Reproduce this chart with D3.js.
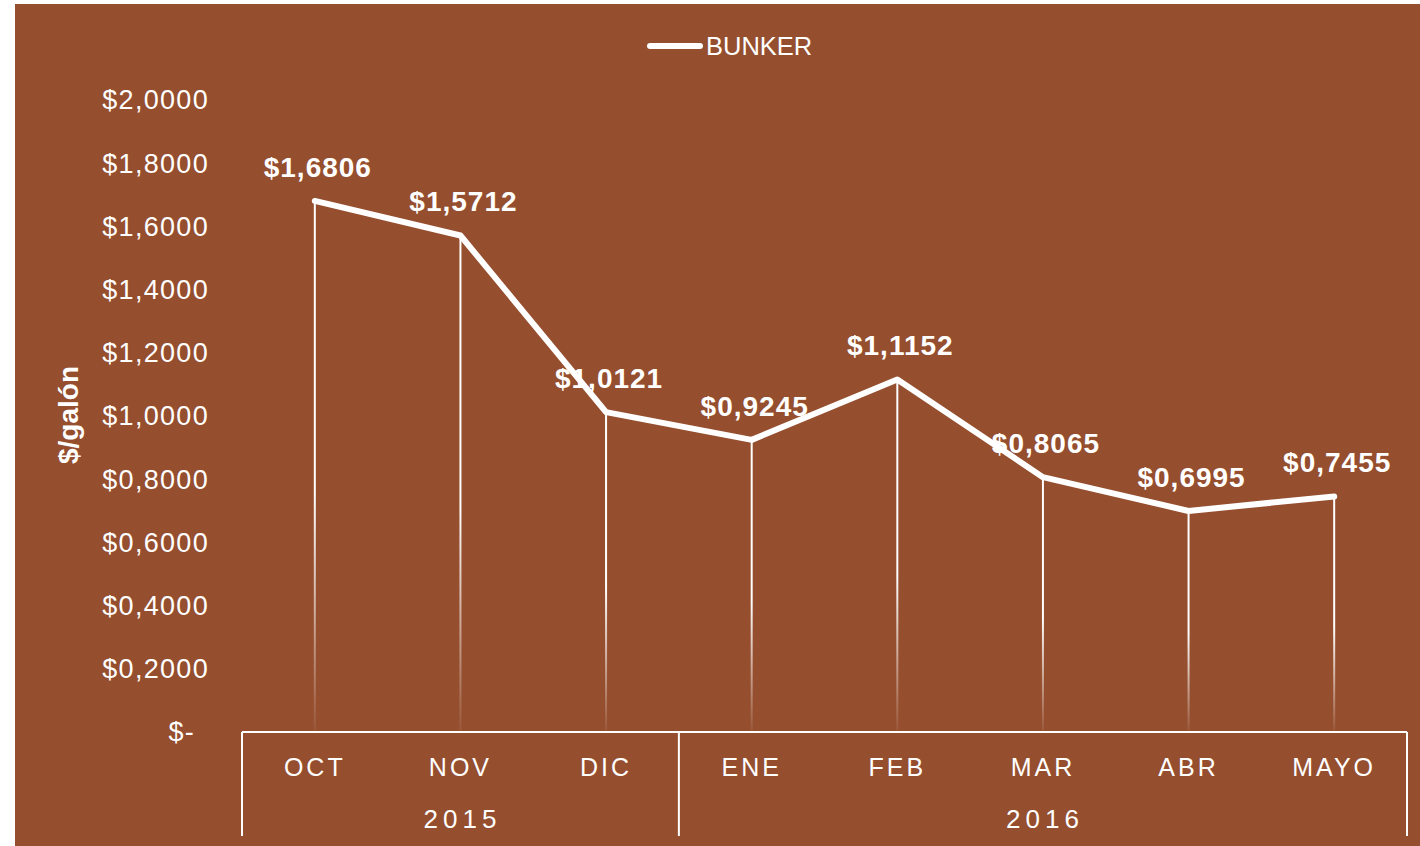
<!DOCTYPE html>
<html><head><meta charset="utf-8">
<script src="https://cdn.jsdelivr.net/npm/d3@7"></script>
<style>body{margin:0;background:#fff}svg{display:block}</style>
</head><body><svg id="c" width="1420" height="846"></svg>
<script>
const months = ["OCT","NOV","DIC","ENE","FEB","MAR","ABR","MAYO"];
const years = [{label:"2015", count:3},{label:"2016", count:5}];
const values = [1.6806,1.5712,1.0121,0.9245,1.1152,0.8065,0.6995,0.7455];
const valueLabels = ["$1,6806","$1,5712","$1,0121","$0,9245","$1,1152","$0,8065","$0,6995","$0,7455"];
const yTicks = [0,0.2,0.4,0.6,0.8,1.0,1.2,1.4,1.6,1.8,2.0];
const seriesName = "BUNKER";
const yTitle = "$/galón";

const svg = d3.select("#c");
const bg = "#954E2E";
const font = "Liberation Sans, Arial, sans-serif";
svg.append("rect").attr("x",15).attr("y",4).attr("width",1405).attr("height",842).attr("fill",bg);

const x = d3.scaleBand().domain(months).range([242,1407]);
const y = d3.scaleLinear().domain([0,2]).range([732,100]);

const defs = svg.append("defs");
values.forEach((v,i)=>{
  const g = defs.append("linearGradient").attr("id","g"+i).attr("gradientUnits","userSpaceOnUse")
    .attr("x1",0).attr("x2",0).attr("y1",y(v)).attr("y2",y(0));
  g.append("stop").attr("offset","0%").attr("stop-color","#fff").attr("stop-opacity",1);
  g.append("stop").attr("offset","55%").attr("stop-color","#fff").attr("stop-opacity",1);
  g.append("stop").attr("offset","100%").attr("stop-color","#fff").attr("stop-opacity",0.05);
});
const cx = d => x(d)+x.bandwidth()/2;
svg.append("g").selectAll("line").data(values).join("line")
  .attr("x1",(d,i)=>cx(months[i])).attr("x2",(d,i)=>cx(months[i])+0.01)
  .attr("y1",d=>y(d)).attr("y2",y(0))
  .attr("stroke",(d,i)=>`url(#g${i})`).attr("stroke-width",2);

svg.append("g").selectAll("text").data(yTicks).join("text")
  .attr("x",d=>d===0?195:209).attr("y",d=>y(d)).attr("dy","0.35em")
  .attr("text-anchor","end").attr("fill","#fff").attr("font-family",font)
  .attr("font-size",27).attr("letter-spacing",1.3)
  .text(d=>d===0?"$-":"$"+d3.format(".4f")(d).replace(".",","));

svg.append("text").attr("transform",`translate(78,415) rotate(-90)`)
  .attr("text-anchor","middle").attr("fill","#fff").attr("font-family",font)
  .attr("font-weight","bold").attr("font-size",28).text(yTitle);

const ax = svg.append("g").attr("stroke","#fff").attr("stroke-width",2).attr("fill","none");
ax.append("line").attr("x1",242).attr("x2",1407).attr("y1",y(0)).attr("y2",y(0));
let acc=0;
const bounds=[x.range()[0]];
years.forEach(yr=>{acc+=yr.count; bounds.push(x(months[acc-1])+x.bandwidth());});
bounds.forEach(b=>ax.append("line").attr("x1",b).attr("x2",b).attr("y1",y(0)).attr("y2",836));

svg.append("g").selectAll("text").data(months).join("text")
  .attr("x",d=>cx(d)).attr("y",767).attr("dy","0.35em").attr("text-anchor","middle")
  .attr("fill","#fff").attr("font-family",font).attr("font-size",25).attr("letter-spacing",3)
  .text(d=>d);
svg.append("g").selectAll("text").data(years).join("text")
  .attr("x",(d,i)=>(bounds[i]+bounds[i+1])/2+2).attr("y",819).attr("dy","0.35em").attr("text-anchor","middle")
  .attr("fill","#fff").attr("font-family",font).attr("font-size",26).attr("letter-spacing",5)
  .text(d=>d.label);

const line = d3.line().x((d,i)=>cx(months[i])).y(d=>y(d));
svg.append("path").datum(values).attr("d",line).attr("fill","none")
  .attr("stroke","#fff").attr("stroke-width",6).attr("stroke-linejoin","round").attr("stroke-linecap","round");

svg.append("g").selectAll("text").data(values).join("text")
  .attr("x",(d,i)=>cx(months[i])+3).attr("y",d=>y(d)-34).attr("dy","0.35em").attr("text-anchor","middle")
  .attr("fill","#fff").attr("font-family",font).attr("font-weight","bold").attr("font-size",28).attr("letter-spacing",1)
  .text((d,i)=>valueLabels[i]);

svg.append("line").attr("x1",650).attr("x2",700).attr("y1",46).attr("y2",46)
  .attr("stroke","#fff").attr("stroke-width",6).attr("stroke-linecap","round");
svg.append("text").attr("x",706).attr("y",46).attr("dy","0.35em").attr("fill","#fff")
  .attr("font-family",font).attr("font-size",25.5).text(seriesName);
</script></body></html>
